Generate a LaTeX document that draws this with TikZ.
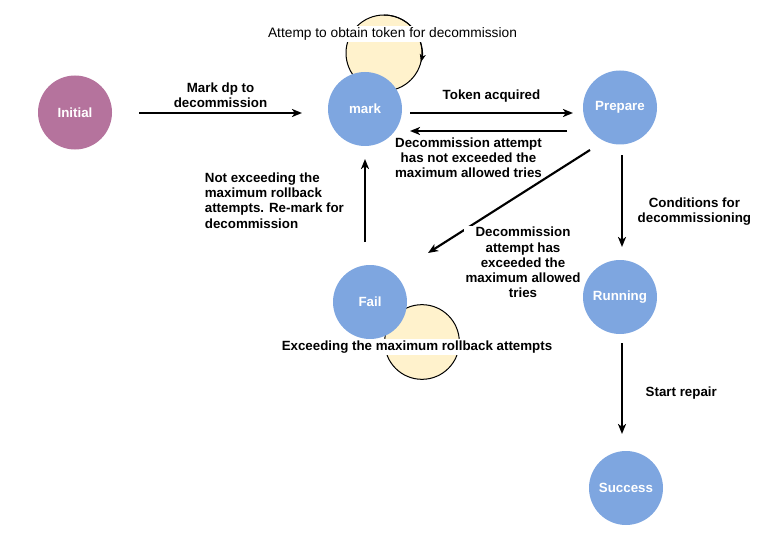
\documentclass[tikz,border=0pt]{standalone}
\usepackage{fontspec}
\setmainfont{Liberation Sans}
\usetikzlibrary{arrows.meta,positioning,calc}
\definecolor{initpurple}{HTML}{B5739D}
\definecolor{stateblue}{HTML}{7EA6E0}
\definecolor{loopyellow}{HTML}{FFF2CC}

\begin{document}
\begin{tikzpicture}[
    x=0.75pt, y=0.75pt,
    statenode/.style={circle, fill=stateblue, minimum size=55.5pt, inner sep=0pt, text=white, font=\fontsize{10}{11.25}\selectfont\bfseries},
    initnode/.style={statenode, fill=initpurple},
    loopnode/.style={circle, draw=black, line width=0.75pt, fill=loopyellow, minimum size=57pt, inner sep=0pt},
    edgelabel/.style={fill=white, inner sep=1pt, align=center, font=\fontsize{10}{11.4}\selectfont\bfseries},
    looplabel/.style={fill=white, inner sep=1pt, font=\fontsize{10.3}{11.4}\selectfont},
    arrow/.style={-{Stealth[length=7.5pt,width=6pt,inset=2pt]}, line width=1.6pt},
    looparrow/.style={-{Stealth[length=6pt,width=4.5pt,inset=1.5pt]}, line width=0.75pt}
]
\useasboundingbox (0,0) rectangle (761,544);

% Self loops (behind the states)
\node[loopnode] (markloop) at (384,491) {};
\node[loopnode, minimum size=56pt] (failloop) at (422,202) {};
\draw[looparrow] ($(markloop.center)+(90:38)$) arc[start angle=90, end angle=-14, radius=38];

% States
\node[initnode] (initial) at (75,431.5) {Initial};
\node[statenode] (mark) at (365,435) {mark};
\node[statenode] (prepare) at (620,436.5) {Prepare};
\node[statenode] (running) at (620,247) {Running};
\node[statenode] (success) at (626,56) {Success};
\node[statenode] (fail) at (370,242) {Fail};

% Transitions
\draw[arrow] ($(initial.center)+(64,-0.5)$) -- ($(mark.center)+(-63,-4)$)
    node[edgelabel, midway, above=2pt] {Mark dp to\\decommission};
\draw[arrow] ($(mark.center)+(45,-4)$) -- ($(prepare.center)+(-47,-5.5)$)
    node[edgelabel, midway, above=6pt] {Token acquired};
\draw[arrow] ($(prepare.center)+(-53,-23.5)$) -- ($(mark.center)+(45,-22)$)
    node[edgelabel, midway, below=3pt, xshift=-15pt] {Decommission attempt\\has not exceeded the\\maximum allowed tries};
\draw[arrow] ($(prepare.center)+(-30,-42.5)$) -- ($(fail.center)+(58,49)$)
    node[edgelabel, midway, shift={(14,-61)}] {Decommission\\attempt has\\exceeded the\\maximum allowed\\tries};
\draw[arrow] ($(prepare.center)+(2,-47.5)$) -- ($(running.center)+(2,50)$)
    node[edgelabel, midway, right=10pt, yshift=-8pt] {Conditions for\\decommissioning};
\draw[arrow] ($(fail.center)+(-5,60)$) -- ($(mark.center)+(0,-50)$)
    node[edgelabel, midway, left=14pt, align=left] {Not exceeding the\\maximum rollback\\attempts. Re-mark for\\decommission};
\draw[arrow] ($(running.center)+(2,-46)$) -- ($(success.center)+(-4,54)$)
    node[edgelabel, midway, right=16pt, yshift=-3.5pt] {Start repair};

% Loop labels
\node[looplabel] (marklooptext) at (392.5,510) {Attemp to obtain token for decommission};
\node[edgelabel] (failooptext) at (417,197) {Exceeding the maximum rollback attempts};

\end{tikzpicture}
\end{document}
